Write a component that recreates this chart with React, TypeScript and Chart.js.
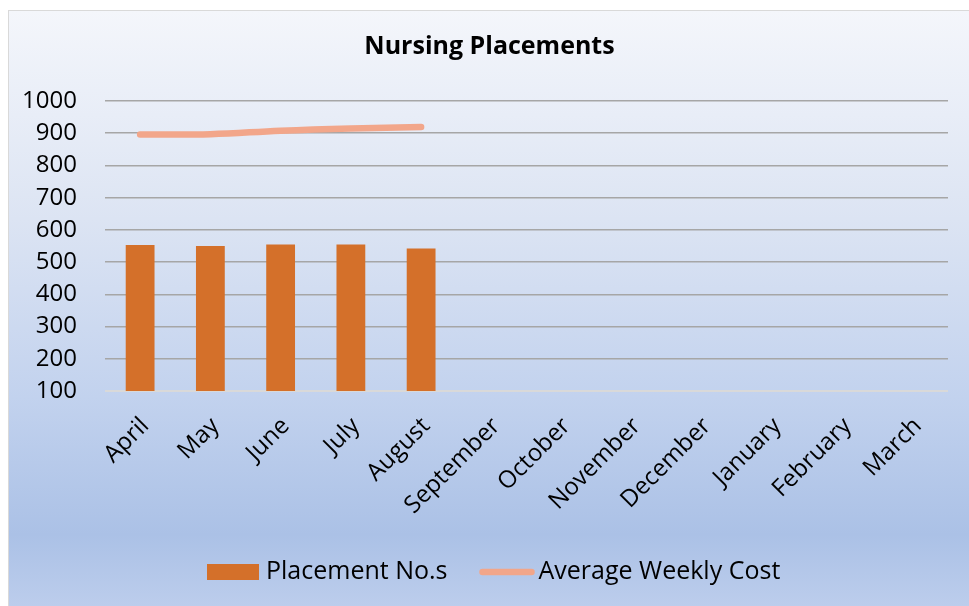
import React, { useEffect, useRef } from "react";
import { Chart, registerables } from "chart.js";

Chart.register(...registerables);

const months = [
  "April", "May", "June", "July", "August", "September",
  "October", "November", "December", "January", "February", "March",
];
const placementNos = [553, 550, 555, 555, 542, null, null, null, null, null, null, null];
const avgWeeklyCost = [896, 897, 908, 915, 919, null, null, null, null, null, null, null];
const seriesNames = ["Placement No.s", "Average Weekly Cost"];
const seriesColors = ["#D4702A", "#F2A68A"];
const yMin = 100;
const yMax = 1000;
const yStep = 100;

const FONT = "'Open Sans', 'Noto Sans', sans-serif";

const titleShift = {
  id: "titleShift",
  afterLayout(chart: any) {
    if (chart.titleBlock) {
      chart.titleBlock.left += 22;
    }
  },
};

const customLegend = {
  id: "customLegend",
  afterDraw(chart: any) {
    const ctx = chart.ctx;
    ctx.save();
    ctx.font = `25px ${FONT}`;
    ctx.fillStyle = "#000";
    ctx.textBaseline = "middle";
    ctx.textAlign = "left";
    const cy = 561;
    let x = 198;
    ctx.fillStyle = seriesColors[0];
    ctx.fillRect(x, cy - 8, 52, 16);
    x += 52 + 7;
    ctx.fillStyle = "#000";
    ctx.fillText(seriesNames[0], x, cy);
    x += ctx.measureText(seriesNames[0]).width + 32;
    ctx.strokeStyle = seriesColors[1];
    ctx.lineWidth = 6.5;
    ctx.lineCap = "round";
    ctx.beginPath();
    ctx.moveTo(x + 3, cy);
    ctx.lineTo(x + 52, cy);
    ctx.stroke();
    x += 55 + 4;
    ctx.fillStyle = "#000";
    ctx.fillText(seriesNames[1], x, cy);
    ctx.restore();
  },
};

export default function App() {
  const ref = useRef<HTMLCanvasElement | null>(null);

  useEffect(() => {
    if (!ref.current) return;
    const chart = new Chart(ref.current, {
      data: {
        labels: months,
        datasets: [
          {
            type: "bar",
            label: seriesNames[0],
            data: placementNos,
            backgroundColor: seriesColors[0],
            borderWidth: 0,
            barPercentage: 0.41,
            categoryPercentage: 1,
            order: 2,
          },
          {
            type: "line",
            label: seriesNames[1],
            data: avgWeeklyCost,
            borderColor: seriesColors[1],
            backgroundColor: seriesColors[1],
            borderWidth: 6.5,
            borderCapStyle: "round",
            tension: 0.4,
            pointRadius: 0,
            spanGaps: false,
            order: 1,
          },
        ],
      } as any,
      options: {
        responsive: false,
        animation: false,
        layout: { padding: { left: 0, right: 21, top: 0, bottom: 0 } },
        font: { family: FONT },
        plugins: {
          title: {
            display: true,
            text: "Nursing Placements",
            color: "#000",
            font: { family: FONT, size: 25, weight: "bold" },
            padding: { top: 21, bottom: 39 },
          },
          legend: { display: false },
          tooltip: { enabled: false },
        },
        scales: {
          x: {
            grid: { display: false, drawTicks: false },
            border: { display: false },
            ticks: {
              maxRotation: 45,
              minRotation: 45,
              autoSkip: false,
              color: "#000",
              padding: 21,
              labelOffset: 5,
              font: { family: FONT, size: 24 },
            },
            afterFit: (s: any) => {
              s.height = 215;
            },
          },
          y: {
            min: yMin,
            max: yMax,
            grid: {
              drawTicks: false,
              color: (ctx: any) => (ctx.tick && ctx.tick.value === yMin ? "#D9D9D9" : "#A6A6A6"),
              lineWidth: (ctx: any) => (ctx.tick && ctx.tick.value === yMin ? 2 : 1.5),
            },
            border: { display: false },
            ticks: {
              stepSize: yStep,
              color: "#000",
              padding: 28,
              font: { family: FONT, size: 24 },
              callback: (v: any) => String(v),
            },
            afterFit: (s: any) => {
              s.width = 96;
            },
          },
        },
      } as any,
      plugins: [titleShift, customLegend],
    });
    return () => chart.destroy();
  }, []);

  return (
    <div
      style={{
        position: "absolute",
        left: 8,
        top: 10,
        width: 961,
        height: 596,
        boxSizing: "border-box",
        borderLeft: "1px solid #D9D9D9",
        borderTop: "1px solid #D9D9D9",
        background:
          "linear-gradient(to bottom, #F4F6FB 0%, #DCE4F3 35%, #C2D2EE 65%, #ABC1E6 88%, #BCCDEC 100%)",
      }}
    >
      <canvas ref={ref} width={960} height={595} style={{ display: "block", width: 960, height: 595 }} />
    </div>
  );
}
